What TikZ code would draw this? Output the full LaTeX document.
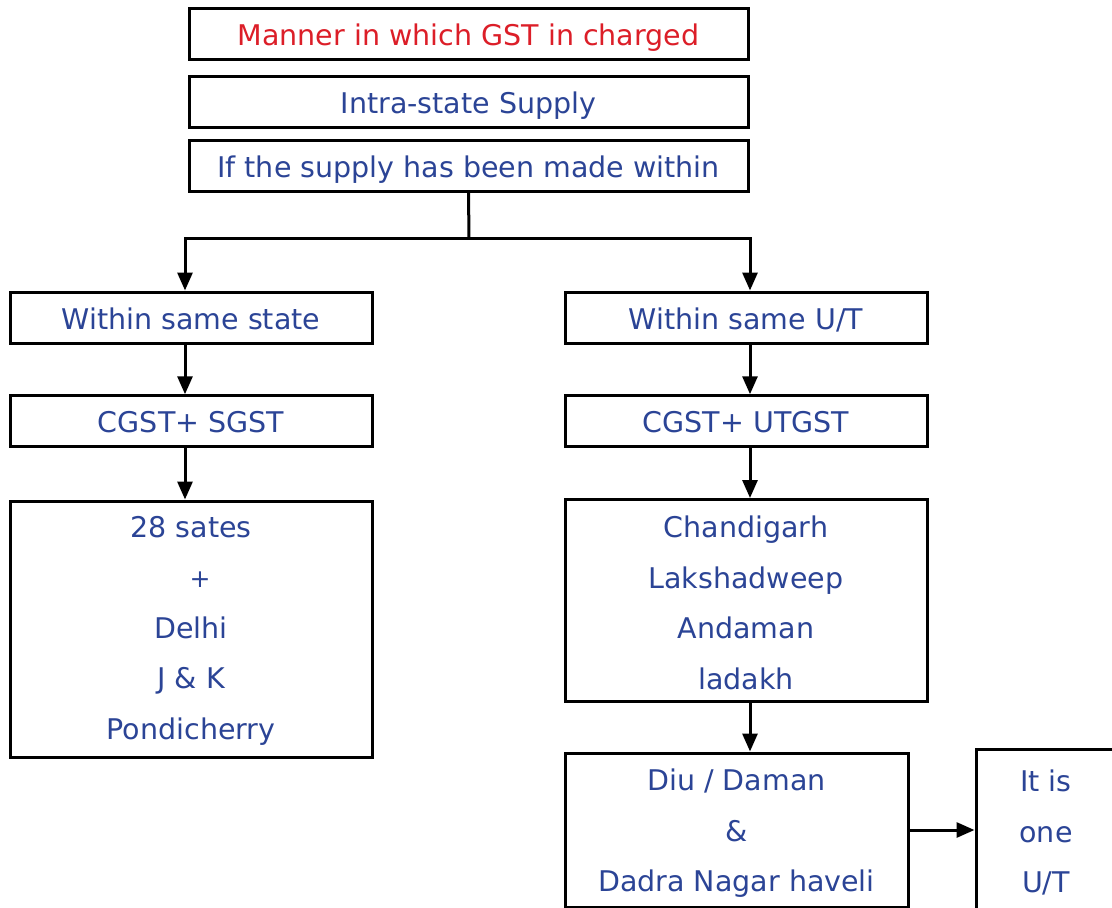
\documentclass[tikz,border=0pt]{standalone}
\usepackage{fontspec}
\setmainfont{DejaVu Sans}
\usetikzlibrary{arrows.meta}
\definecolor{txtblue}{RGB}{43,68,150}
\definecolor{txtred}{RGB}{220,30,40}
\newcommand\bxt[2]{\raisebox{#1}[\height][\depth]{\begin{tabular}{@{}c@{}}#2\end{tabular}}}
\begin{document}
\begin{tikzpicture}[x=1pt,y=-1pt,
  box/.style={draw=black,line width=3pt,fill=white,inner sep=0pt,text=txtblue,
    font=\fontsize{28.5}{50.5}\selectfont},
  conn/.style={line width=3pt,draw=black},
  arr/.style={conn,-{Triangle[length=18pt,width=15pt]}}]
\clip (0,0) rectangle (1112,908);
\fill[white] (0,0) rectangle (1112,908);
% top boxes
\node[box,minimum width=559pt,minimum height=50pt,text=txtred] (b1) at (468.5,34) {\bxt{-1.5pt}{Manner in which GST in charged}};
\node[box,minimum width=559pt,minimum height=50pt] (b2) at (468.5,102) {\bxt{-1.5pt}{Intra-state Supply}};
\node[box,minimum width=559pt,minimum height=50pt] (b3) at (468.5,166) {\bxt{-1.5pt}{If the supply has been made within}};
% second row
\node[box,minimum width=362pt,minimum height=51pt] (b4) at (191,317.5) {\bxt{-2pt}{Within same state}};
\node[box,minimum width=362pt,minimum height=51pt] (b5) at (746,317.5) {\bxt{-2pt}{Within same U/T}};
\node[box,minimum width=362pt,minimum height=50pt] (b6) at (191,421) {\bxt{-1.5pt}{CGST+ SGST}};
\node[box,minimum width=362pt,minimum height=50pt] (b7) at (746,421) {\bxt{-1.5pt}{CGST+ UTGST}};
% lists
\node[box,minimum width=362pt,minimum height=256pt] (b8) at (191,629) {\bxt{1pt}{28 sates\\ \hspace*{18pt}{\fontsize{25}{50.5}\selectfont+}\\Delhi\\J \& K\\Pondicherry}};
\node[box,minimum width=362pt,minimum height=199pt] (b9) at (746,600.5) {\bxt{-3pt}{Chandigarh\\Lakshadweep\\Andaman\\ladakh}};
\node[box,minimum width=343pt,minimum height=154pt] (b10) at (736.5,830) {\bxt{-1pt}{Diu / Daman\\\&\\Dadra Nagar haveli}};
\node[box,minimum width=140pt,minimum height=166pt] (b11) at (1046,832) {\bxt{0pt}{It is\\one\\U/T}};
% connectors
\coordinate (j) at (469,238);
\draw[conn] (b3.south) -- (j);
\draw[arr] (j) -| ([xshift=-6pt]b4.north);
\draw[arr] (j) -| ([xshift=4pt]b5.north);
\draw[arr] ([xshift=-6pt]b4.south) -- ([xshift=-6pt]b6.north);
\draw[arr] ([xshift=4pt]b5.south) -- ([xshift=4pt]b7.north);
\draw[arr] ([xshift=-6pt]b6.south) -- ([xshift=-6pt]b8.north);
\draw[arr] ([xshift=4pt]b7.south) -- ([xshift=4pt]b9.north);
\draw[arr] ([xshift=4pt]b9.south) -- ([xshift=13.5pt]b10.north);
\draw[arr] (b10.east) -- (b10.east -| b11.west);
\end{tikzpicture}
\end{document}
